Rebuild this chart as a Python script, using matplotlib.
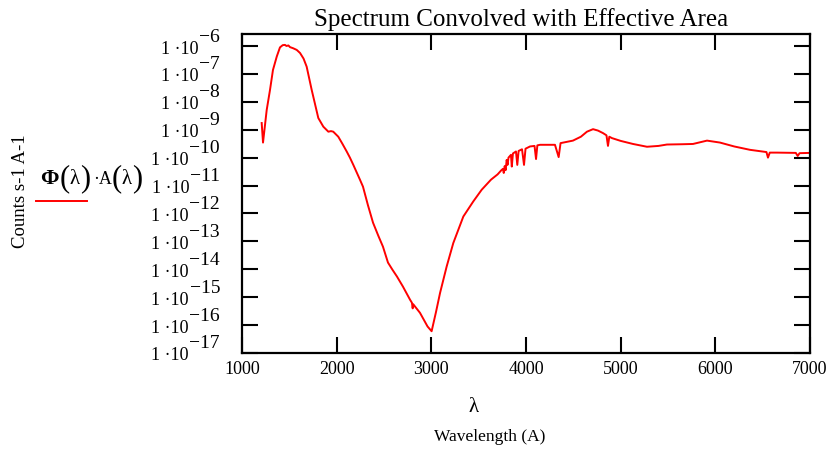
import numpy as np
import matplotlib
matplotlib.use('Agg')
from matplotlib import pyplot as plt
from matplotlib import transforms
from matplotlib.lines import Line2D

plt.rcParams['font.family'] = ['Liberation Serif', 'DejaVu Serif']

# wavelength in Angstrom, log10 of counts s-1 A-1
wavelength = [1208, 1222, 1261, 1296, 1327, 1367, 1401, 1430, 1454, 1470, 1490,
              1507, 1540, 1578, 1613, 1650, 1683, 1736, 1806, 1859, 1912, 1940,
              1964, 2017, 2060, 2106, 2140, 2176, 2246, 2278, 2330, 2384, 2440,
              2489, 2542, 2590, 2637, 2700, 2775, 2795, 2803, 2808, 2880, 2960,
              3003, 3050, 3092, 3162, 3232, 3338, 3443, 3532, 3630, 3700, 3740,
              3757, 3765, 3775, 3785, 3796, 3805, 3815, 3841, 3850, 3862, 3894,
              3908, 3922, 3958, 3979, 3995, 4042, 4090, 4106, 4120, 4148, 4306,
              4345, 4365, 4496, 4580, 4644, 4708, 4760, 4813, 4850, 4866, 4880,
              4908, 5000, 5130, 5278, 5400, 5489, 5650, 5764, 5912, 6049, 6200,
              6366, 6540, 6556, 6575, 6651, 6850, 6870, 6890, 7000]
log_counts = [-8.76, -9.46, -8.29, -7.57, -6.86, -6.38, -6.05, -5.97, -5.96, -6.00, -5.98,
              -6.04, -6.08, -6.14, -6.25, -6.45, -6.74, -7.57, -8.58, -8.89, -9.07, -9.05,
              -9.07, -9.25, -9.50, -9.78, -10.00, -10.26, -10.79, -11.04, -11.70, -12.33, -12.80,
              -13.19, -13.76, -14.02, -14.26, -14.62, -15.09, -15.20, -15.40, -15.25, -15.56, -16.05,
              -16.22, -15.52, -14.85, -13.90, -13.06, -12.11, -11.57, -11.15, -10.79, -10.60, -10.45,
              -10.40, -10.55, -10.30, -10.45, -10.08, -10.26, -10.00, -9.90, -10.32, -9.85, -9.78,
              -10.26, -9.76, -9.70, -10.26, -9.68, -9.60, -9.58, -10.05, -9.56, -9.54, -9.54,
              -9.98, -9.48, -9.39, -9.25, -9.07, -8.98, -9.03, -9.12, -9.20, -9.58, -9.25,
              -9.30, -9.40, -9.51, -9.61, -9.58, -9.53, -9.52, -9.51, -9.39, -9.46, -9.60,
              -9.72, -9.80, -10.00, -9.82, -9.82, -9.83, -9.94, -9.84, -9.83]

x_ticks = [1000, 2000, 3000, 4000, 5000, 6000, 7000]
y_decades = [-6, -7, -8, -9, -10, -11, -12, -13, -14, -15, -16, -17]

W, H = 839, 453
fig = plt.figure(figsize=(W / 100, H / 100), dpi=100)
ax = fig.add_axes([242 / W, (H - 353) / H, 568 / W, 319 / H])

ax.plot(wavelength, 10 ** np.array(log_counts), color='#ff0000', lw=1.4)
ax.set_yscale('log')
ax.set_xlim(1000, 7000)
ax.set_ylim(1e-17, 10 ** -5.57)
ax.set_xticks(x_ticks)
ax.set_xticklabels([str(t) for t in x_ticks], fontsize=13)
ax.set_yticks([10.0 ** d for d in y_decades])
ax.yaxis.set_minor_locator(matplotlib.ticker.NullLocator())
ax.tick_params(direction='in', length=11.5, width=1.5, top=True, right=True,
               labelleft=False, pad=6)
for s in ax.spines.values():
    s.set_linewidth(1.6)

# y tick labels in "1 ·10^-n" style, exponent as large as the base
trans = transforms.blended_transform_factory(ax.transAxes, ax.transData)
for d in y_decades:
    exp_t = ax.text(-0.0387, 10.0 ** d, '\u2212' + str(-d), fontsize=14,
                    ha='right', va='center',
                    transform=transforms.offset_copy(trans, fig=fig, x=0, y=9, units='dots'))
    ax.annotate('1 \u00b710', xy=(0, 0.5), xycoords=exp_t, xytext=(-1, -12),
                textcoords='offset pixels', ha='right', va='center', fontsize=13)

fig.text(521.5 / W, 1 - 20 / H, 'Spectrum Convolved with Effective Area',
         fontsize=18, ha='center', va='center')
fig.text(473.7 / W, 1 - 408 / H, '\u03bb', fontsize=15, ha='center', va='center')
fig.text(489.5 / W, 1 - 437 / H, 'Wavelength (A)', fontsize=12.5, ha='center', va='center')
fig.text(21 / W, 1 - 191 / H, 'Counts s-1 A-1', fontsize=13.5, rotation=90,
         ha='center', va='center')

# legend entry: Φ(λ)·A(λ) with tall parentheses, built piece by piece
pieces = [('\u03a6', 16, 'bold', 0), ('(', 22, 'normal', 1), ('\u03bb', 15, 'normal', 0),
          (')', 22, 'normal', 0), ('\u00b7A', 13, 'normal', 3), ('(', 22, 'normal', 0),
          ('\u03bb', 15, 'normal', 0), (')', 22, 'normal', 0)]
prev = fig.text(40 / W, 1 - 179 / H, pieces[0][0], fontsize=pieces[0][1],
                fontweight=pieces[0][2], ha='left', va='center')
for txt, fs, fw, gap in pieces[1:]:
    prev = ax.annotate(txt, xy=(1, 0.5), xycoords=prev, xytext=(gap, 0),
                       textcoords='offset pixels', ha='left', va='center',
                       fontsize=fs, fontweight=fw, annotation_clip=False)
fig.add_artist(Line2D([36 / W, 87 / W], [1 - 200.7 / H] * 2, color='#ff0000', lw=1.4))

fig.savefig('out.png', dpi=100)
